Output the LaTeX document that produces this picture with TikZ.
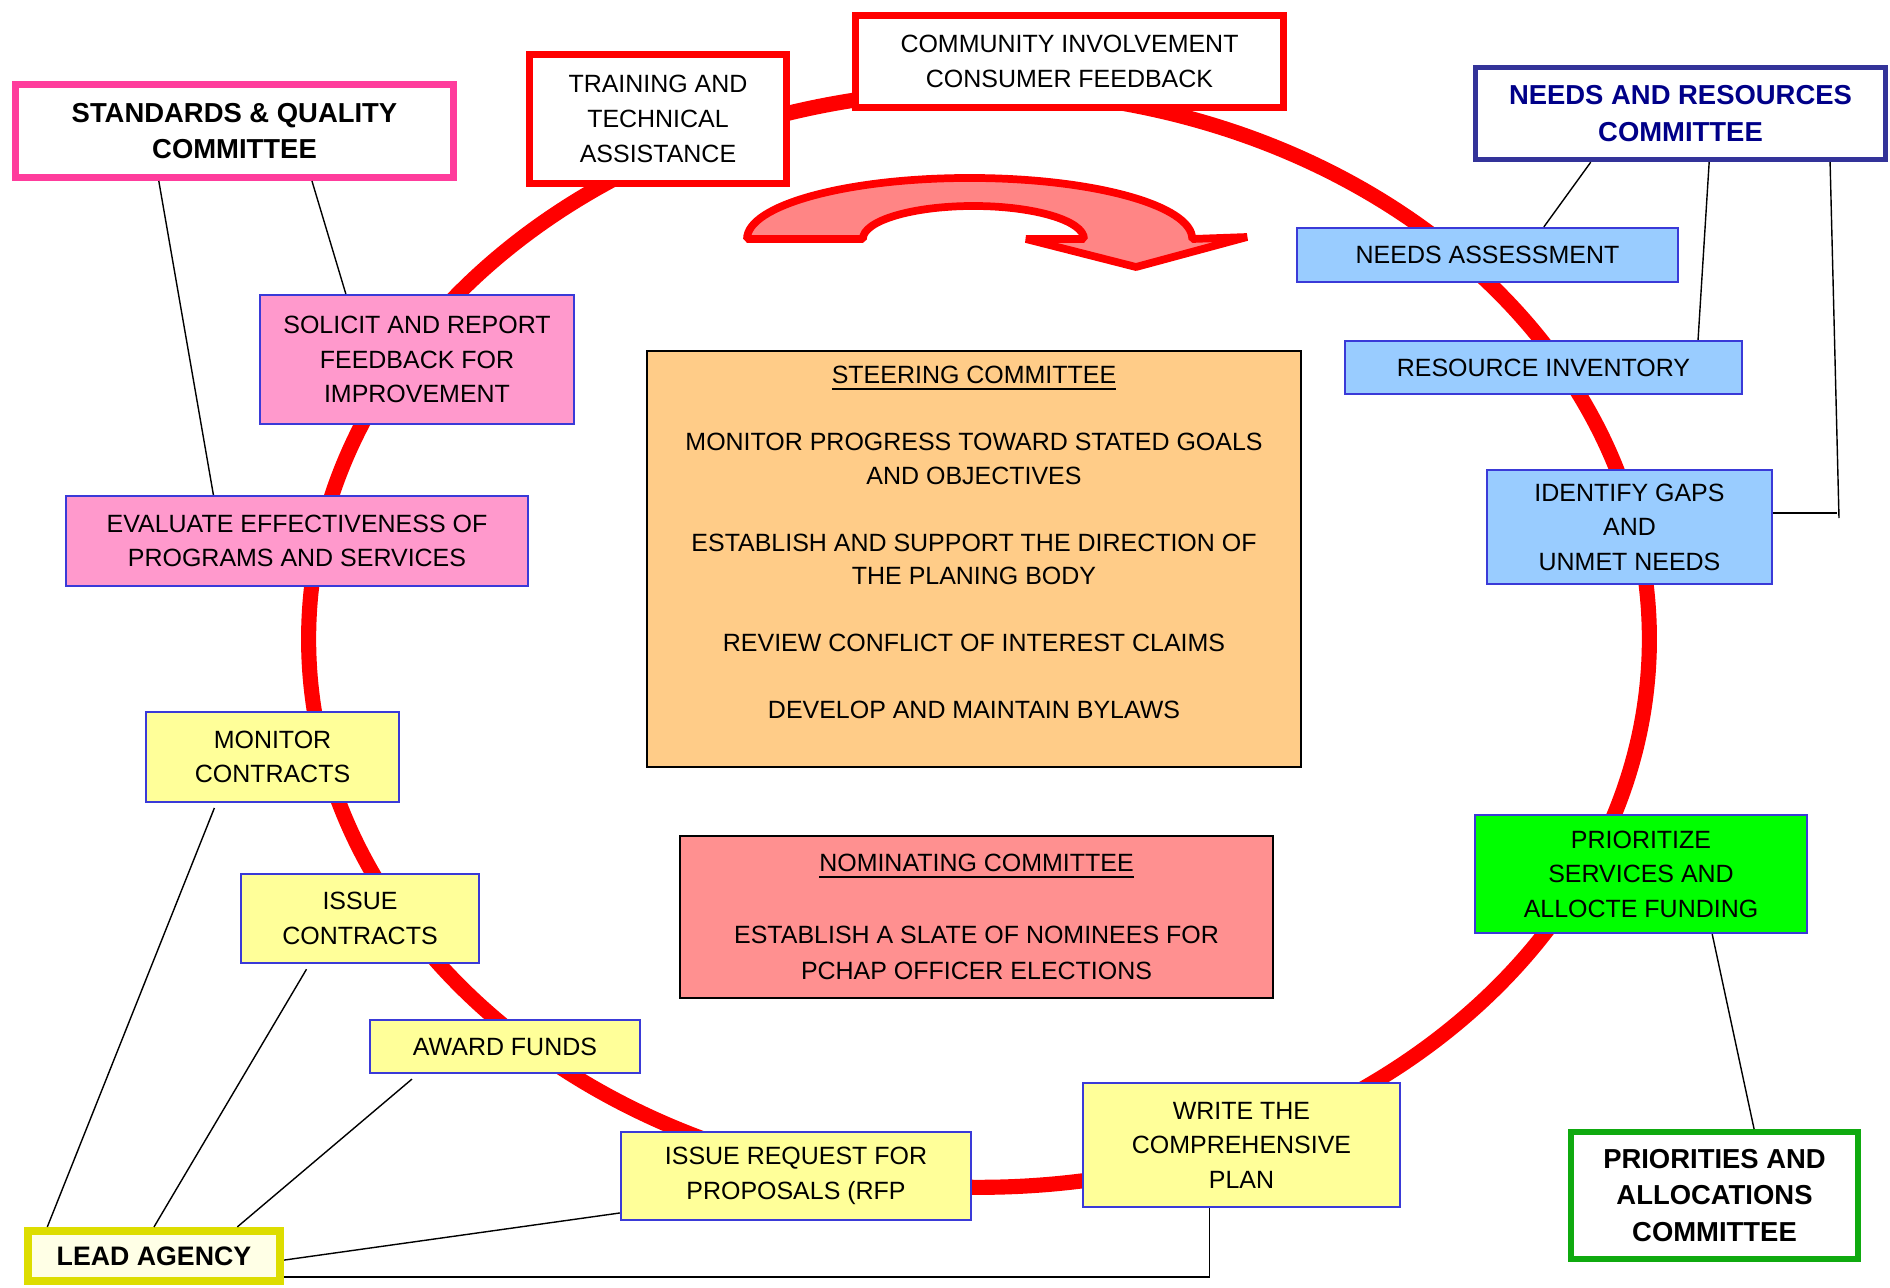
\documentclass[tikz,border=0pt]{standalone}
\usepackage{fontspec}
\setmainfont{Liberation Sans}
\usetikzlibrary{calc}

\definecolor{ringred}{HTML}{FF0000}
\definecolor{stdpink}{HTML}{FF3C9C}
\definecolor{navyline}{HTML}{333399}
\definecolor{navytext}{HTML}{000088}
\definecolor{taskblue}{HTML}{3A3AD8}
\definecolor{skyfill}{HTML}{99CCFF}
\definecolor{pinkfill}{HTML}{FF99CC}
\definecolor{lemonfill}{HTML}{FFFF99}
\definecolor{limefill}{HTML}{00FF00}
\definecolor{pacgreen}{HTML}{0FAA0F}
\definecolor{leadline}{HTML}{DDDD00}
\definecolor{leadfill}{HTML}{FFFFE6}
\definecolor{steerfill}{HTML}{FFCC88}
\definecolor{nomfill}{HTML}{FF9090}
\definecolor{arrowfill}{HTML}{FF8585}

\tikzset{
  every node/.style={font=\fontsize{7.1}{9.8}\selectfont, align=center, inner sep=1pt},
  task/.style={draw=taskblue, line width=0.6pt},
  committee/.style={fill=white, line width=2pt, font=\fontsize{7.8}{10.4}\selectfont\bfseries},
  board/.style={draw=black, line width=0.6pt},
  link/.style={draw=black, line width=0.4pt},
}

\begin{document}
\begin{tikzpicture}[x=0.01cm, y=-0.01cm]
  \useasboundingbox (0,0) rectangle (1890,1287);
  % planning cycle
  \draw[ringred, line width=4.3pt] (979,639) ellipse [x radius=6.7cm, y radius=5.48cm];
  \filldraw[draw=ringred, fill=arrowfill, line width=2.2pt, line join=bevel]
    (747,239) arc[start angle=180, end angle=0, x radius=2.225cm, y radius=0.61cm]
    -- (1247,237) -- (1136,267) -- (1026,239) -- (1084,239)
    arc[start angle=0, end angle=180, x radius=1.105cm, y radius=0.33cm] -- cycle;

  % committees
  \node[committee, draw=stdpink, minimum width=4.38cm, minimum height=0.93cm] (std) at (234.5,131) {STANDARDS \& QUALITY\\COMMITTEE};
  \node[committee, draw=ringred, font=\fontsize{7.1}{10}\selectfont, minimum width=2.57cm, minimum height=1.29cm] (train) at (658,119) {TRAINING AND\\TECHNICAL\\ASSISTANCE};
  \node[committee, draw=ringred, font=\fontsize{7.1}{9.8}\selectfont, minimum width=4.28cm, minimum height=0.92cm] (comm) at (1069.5,61.5) {COMMUNITY INVOLVEMENT\\CONSUMER FEEDBACK};
  \node[committee, draw=navyline, line width=1.5pt, text=navytext, minimum width=4.10cm, minimum height=0.92cm] (nr) at (1680.5,113.5) {NEEDS AND RESOURCES\\COMMITTEE};
  \node[committee, draw=pacgreen, line width=1.7pt, minimum width=2.87cm, minimum height=1.27cm] (pac) at (1714.5,1195.5) {PRIORITIES AND\\ALLOCATIONS\\COMMITTEE};
  \node[committee, draw=leadline, fill=leadfill, line width=2.3pt, font=\fontsize{7.6}{10}\selectfont\bfseries, minimum width=2.52cm, minimum height=0.50cm] (lead) at (154,1256) {LEAD AGENCY};

  % tasks
  \node[task, fill=skyfill, minimum width=3.81cm, minimum height=0.54cm] (na) at (1487.5,255) {NEEDS ASSESSMENT};
  \node[task, fill=skyfill, minimum width=3.97cm, minimum height=0.53cm] (ri) at (1543.5,367.5) {RESOURCE INVENTORY};
  \node[task, fill=skyfill, minimum width=2.85cm, minimum height=1.14cm] (gaps) at (1629.5,527) {IDENTIFY GAPS\\AND\\UNMET NEEDS};
  \node[task, fill=limefill, minimum width=3.32cm, minimum height=1.18cm] (prio) at (1641,874) {PRIORITIZE\\SERVICES AND\\ALLOCTE FUNDING};
  \node[task, fill=lemonfill, minimum width=3.17cm, minimum height=1.24cm] (plan) at (1241.5,1145) {WRITE THE\\COMPREHENSIVE\\PLAN};
  \node[task, fill=lemonfill, minimum width=3.50cm, minimum height=0.88cm] (rfp) at (796,1176) {ISSUE REQUEST FOR\\PROPOSALS (RFP};
  \node[task, fill=lemonfill, minimum width=2.70cm, minimum height=0.53cm] (award) at (505,1046.5) {AWARD FUNDS};
  \node[task, fill=lemonfill, minimum width=2.38cm, minimum height=0.89cm] (issue) at (360,918.5) {ISSUE\\CONTRACTS};
  \node[task, fill=lemonfill, minimum width=2.53cm, minimum height=0.90cm] (mon) at (272.5,757) {MONITOR\\CONTRACTS};
  \node[task, fill=pinkfill, minimum width=4.62cm, minimum height=0.90cm] (eval) at (297,541) {EVALUATE EFFECTIVENESS OF\\PROGRAMS AND SERVICES};
  \node[task, fill=pinkfill, minimum width=3.14cm, minimum height=1.29cm] (sol) at (417,359.5) {SOLICIT AND REPORT\\FEEDBACK FOR\\IMPROVEMENT};

  % centre boards
  \node[board, fill=steerfill, font=\fontsize{7.1}{9.5}\selectfont, minimum width=6.54cm, minimum height=4.16cm] (steer) at (974,559)
    {\underline{STEERING COMMITTEE}\\[9.5pt]
     MONITOR PROGRESS TOWARD STATED GOALS\\AND OBJECTIVES\\[9.5pt]
     ESTABLISH AND SUPPORT THE DIRECTION OF\\THE PLANING BODY\\[9.5pt]
     REVIEW CONFLICT OF INTEREST CLAIMS\\[9.5pt]
     DEVELOP AND MAINTAIN BYLAWS\\ \mbox{}};
  \node[board, fill=nomfill, font=\fontsize{7.1}{10.2}\selectfont, minimum width=5.93cm, minimum height=1.62cm] (nom) at (976.5,917)
    {\underline{NOMINATING COMMITTEE}\\[10.2pt]
     ESTABLISH A SLATE OF NOMINEES FOR\\PCHAP OFFICER ELECTIONS};

  % connectors
  \draw[link] ($(std.south west)!0.33!(std.south east)$) -- ($(eval.north west)!0.32!(eval.north east)$);
  \draw[link] ($(std.south west)!0.674!(std.south east)$) -- ($(sol.north west)!0.275!(sol.north east)$);
  \draw[link] ($(nr.south west)!0.284!(nr.south east)$) -- ($(na.north west)!0.647!(na.north east)$);
  \draw[link] ($(nr.south west)!0.569!(nr.south east)$) -- ($(ri.north west)!0.887!(ri.north east)$);
  \coordinate (gapsend) at (1839,518);
  \draw[link] ($(nr.south west)!0.86!(nr.south east)$) -- (gapsend);
  \draw[link] ($(gaps.north east)!0.38!(gaps.south east)$) -- ++(64,0);
  \draw[link] ($(prio.south west)!0.713!(prio.south east)$) -- ($(pac.north west)!0.635!(pac.north east)$);
  \draw[link, shorten >=1.5pt] ($(lead.north west)!0.09!(lead.north east)$) -- ($(mon.south west)!0.28!(mon.south east)$);
  \draw[link, shorten >=1.7pt] ($(lead.north west)!0.5!(lead.north east)$) -- ($(issue.south west)!0.29!(issue.south east)$);
  \draw[link, shorten >=2.2pt] ($(lead.north west)!0.82!(lead.north east)$) -- ($(award.south west)!0.18!(award.south east)$);
  \draw[link] ($(lead.north east)!0.57!(lead.south east)$) -- ($(rfp.north west)!0.91!(rfp.south west)$);
  \draw[link] ($(lead.north east)!0.86!(lead.south east)$) -| ($(plan.south west)!0.40!(plan.south east)$);
\end{tikzpicture}
\end{document}
